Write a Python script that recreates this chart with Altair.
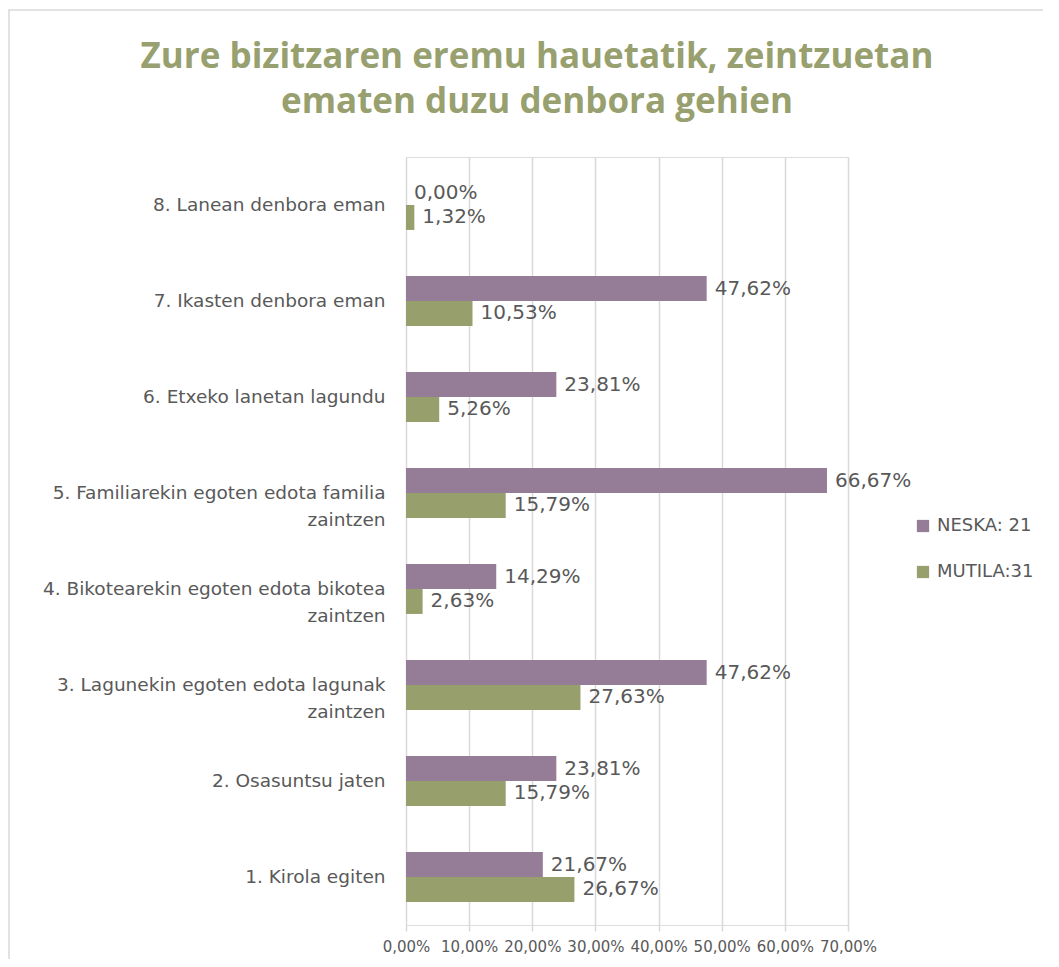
import altair as alt
import pandas as pd

categories = [
    "8. Lanean denbora eman",
    "7. Ikasten denbora eman",
    "6. Etxeko lanetan lagundu",
    "5. Familiarekin egoten edota familia\nzaintzen",
    "4. Bikotearekin egoten edota bikotea\nzaintzen",
    "3. Lagunekin egoten edota lagunak\nzaintzen",
    "2. Osasuntsu jaten",
    "1. Kirola egiten",
]
series = ["NESKA: 21", "MUTILA:31"]
neska = [0.00, 47.62, 23.81, 66.67, 14.29, 47.62, 23.81, 21.67]
mutila = [1.32, 10.53, 5.26, 15.79, 2.63, 27.63, 15.79, 26.67]
colors = ["#967D97", "#97A06D"]
x_ticks = [0, 0.1, 0.2, 0.3, 0.4, 0.5, 0.6, 0.7]

rows = []
for c, n, m in zip(categories, neska, mutila):
    rows.append({"cat": c, "serie": series[0], "value": n / 100, "pct": n})
    rows.append({"cat": c, "serie": series[1], "value": m / 100, "pct": m})
df = pd.DataFrame(rows)

FONT = "DejaVu Sans"
TXT = "#595959"

base = alt.Chart(df).encode(
    y=alt.Y(
        "cat:N",
        sort=categories,
        scale=alt.Scale(paddingInner=0.48, paddingOuter=0.24),
        axis=alt.Axis(
            title=None,
            domain=False,
            ticks=False,
            labelPadding=21,
            labelFontSize=18.5,
            labelColor=TXT,
            labelFont=FONT,
            labelLimit=420,
            labelLineHeight=27,
            labelExpr="split(datum.label, '\\n')",
        ),
    ),
    yOffset=alt.YOffset("serie:N", sort=series),
)

bars = base.mark_bar().encode(
    x=alt.X(
        "value:Q",
        scale=alt.Scale(domain=[0, 0.7], nice=False),
        axis=alt.Axis(
            title=None,
            values=x_ticks,
            domain=False,
            tickColor="#d9d9d9",
            tickWidth=1.5,
            tickSize=6,
            gridColor="#d9d9d9",
            gridWidth=1.5,
            labelFontSize=15,
            labelColor=TXT,
            labelFont=FONT,
            labelPadding=8,
            labelOverlap=False,
            labelBound=False,
            labelFlush=False,
            labelExpr="replace(format(datum.value, '.2%'), '.', ',')",
        ),
    ),
    color=alt.Color(
        "serie:N",
        sort=series,
        scale=alt.Scale(domain=series, range=colors),
        legend=alt.Legend(
            title=None,
            orient="none",
            legendX=508,
            legendY=360,
            symbolType="square",
            symbolSize=150,
            symbolStrokeWidth=0,
            labelFontSize=18,
            labelColor=TXT,
            labelFont=FONT,
            labelOffset=5,
            rowPadding=28,
        ),
    ),
)

labels = base.transform_calculate(
    lab="replace(format(datum.pct, '.2f'), '.', ',') + '%'"
).mark_text(align="left", baseline="middle", dx=8, fontSize=20, font=FONT, color=TXT).encode(
    x="value:Q",
    text="lab:N",
)

border = alt.Chart(pd.DataFrame({"k": [0]})).mark_rect(
    fill=None, stroke="#d9d9d9", strokeWidth=1.5
).encode(
    x=alt.value(-397), x2=alt.value(700), y=alt.value(-147), y2=alt.value(900)
)

chart = alt.layer(border, bars, labels).properties(
    width=442,
    height=768,
    autosize=alt.AutoSizeParams(type="none"),
    padding={"left": 398, "top": 149, "right": 195, "bottom": 34},
    title=alt.Title(
        text=["Zure bizitzaren eremu hauetatik, zeintzuetan", "ematen duzu denbora gehien"],
        fontSize=35,
        font="Open Sans",
        fontWeight="bold",
        color="#97A06E",
        anchor="middle",
        frame="group",
        dx=-90,
        dy=149,
        offset=38,
        lineHeight=45,
    ),
).configure_view(stroke=None).configure(background="white")

chart.save("out.html", embed_options={"renderer": "svg", "actions": False})
